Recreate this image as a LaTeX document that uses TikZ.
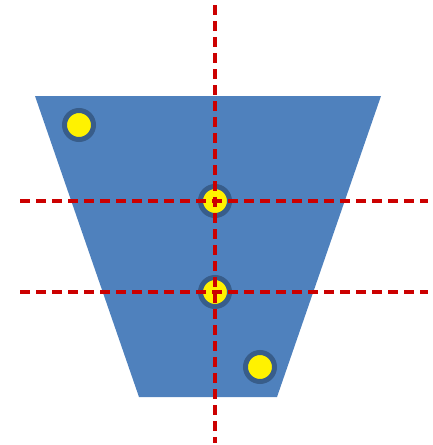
\documentclass[tikz,border=0pt]{standalone}
\begin{document}
\begin{tikzpicture}[x=1pt,y=-1pt,
  shapefill/.style={fill={rgb,255:red,79;green,129;blue,189}},
  dot/.style={circle,fill=yellow,draw={rgb,255:red,56;green,93;blue,138},line width=5pt,minimum size=29pt,inner sep=0pt},
  axis/.style={draw={rgb,255:red,204;green,0;blue,0},line width=3.5pt,dash pattern=on 10pt off 6pt}]
\useasboundingbox (0,0) rectangle (432,445);
\fill[shapefill] (35,96) -- (381,96) -- (277,397) -- (139,397) -- cycle;
\node[dot] (d1) at (79,125) {};
\node[dot] (d2) at (215,201) {};
\node[dot] (d3) at (215,292) {};
\node[dot] (d4) at (260,367) {};
\coordinate (vt) at (215,5);
\coordinate (vb) at (215,443);
\coordinate (h1l) at (20,201);
\coordinate (h1r) at (428,201);
\coordinate (h2l) at (20,292);
\coordinate (h2r) at (428,292);
\draw[axis] (vt) -- (vb);
\draw[axis] (h1l) -- (h1r);
\draw[axis] (h2l) -- (h2r);
\end{tikzpicture}
\end{document}
